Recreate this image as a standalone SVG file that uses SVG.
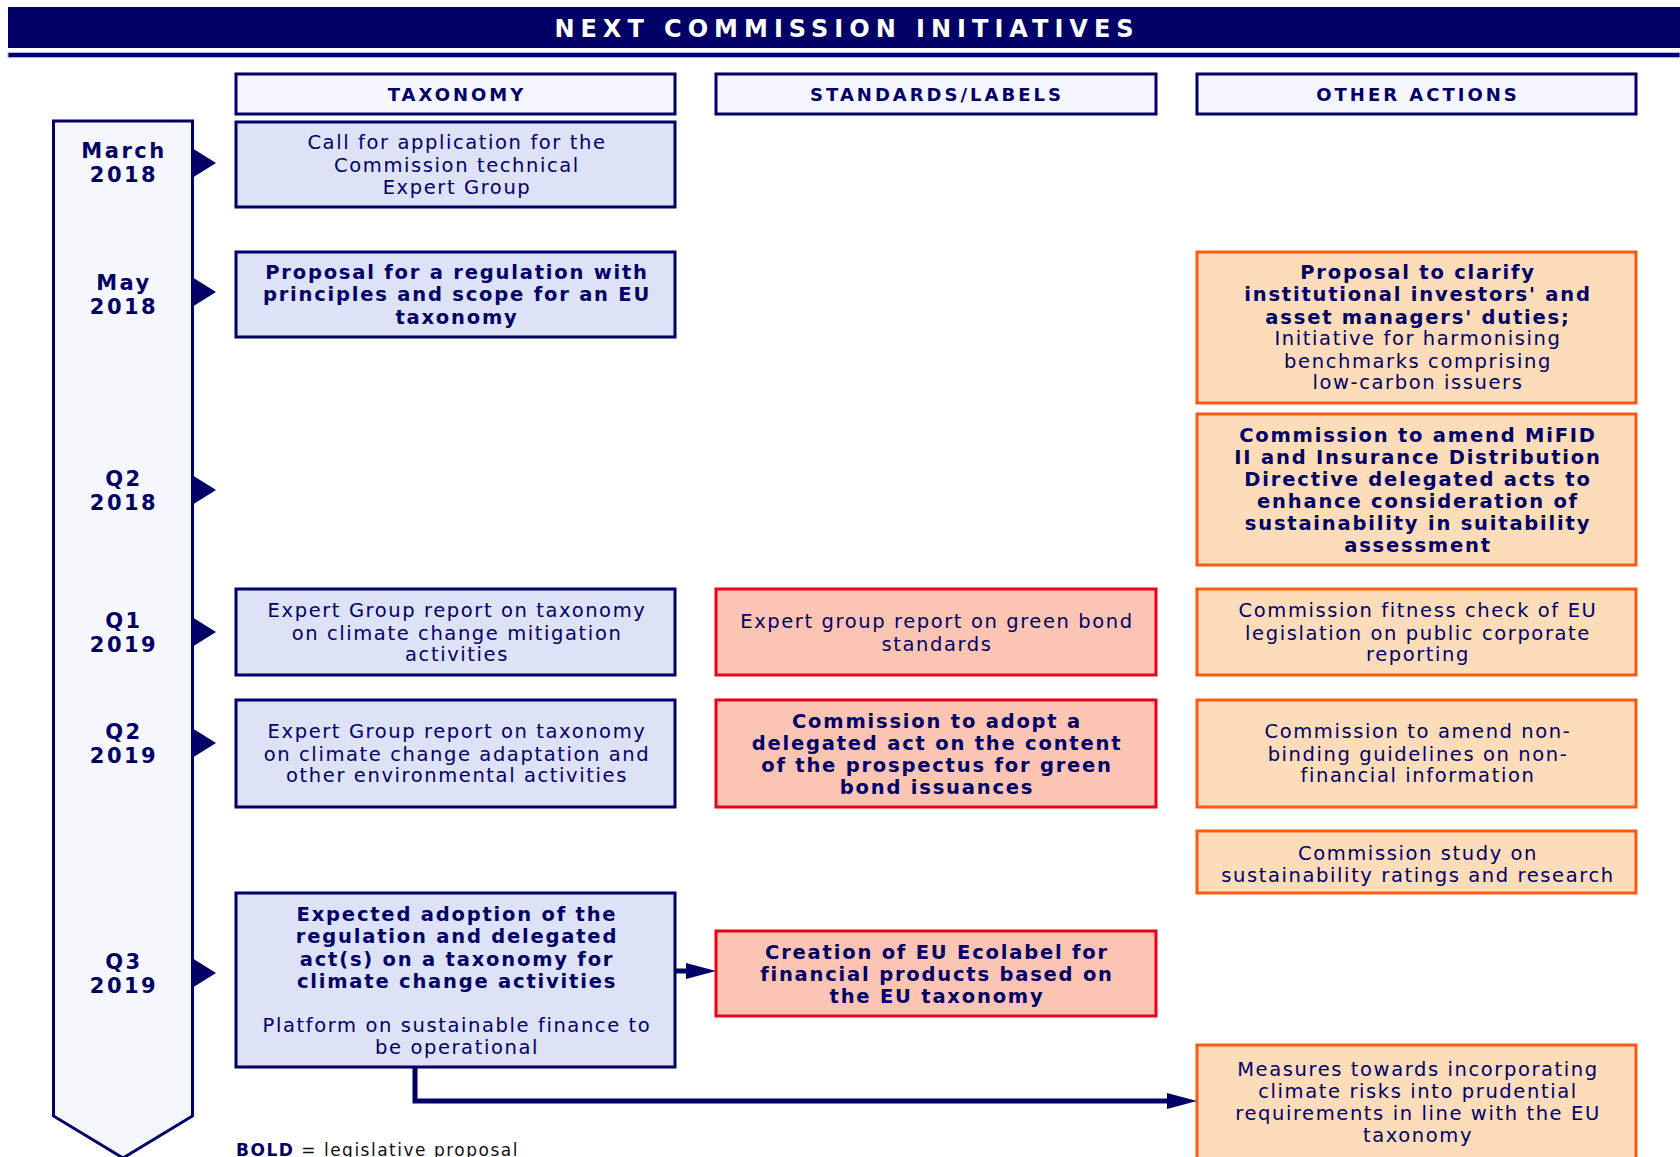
<svg xmlns="http://www.w3.org/2000/svg" width="1680" height="1157" viewBox="0 0 1680 1157">
  <defs>
    <style>
      .txt { font-family: "DejaVu Sans", "Liberation Sans", sans-serif; fill: #000066; text-anchor: middle; }
      .r { font-size: 19.5px; letter-spacing: 1.6px; }
      .b { font-size: 19.5px; font-weight: bold; letter-spacing: 1.8px; }
      .hd { font-size: 18px; font-weight: bold; letter-spacing: 3px; }
      .when { font-size: 21px; font-weight: bold; letter-spacing: 2.5px; }
      .tax { fill: #dde2f7; stroke: #000066; stroke-width: 3; }
      .std { fill: #fcc5b3; stroke: #e8001c; stroke-width: 3; }
      .oth { fill: #fddcb9; stroke: #fa5a14; stroke-width: 3; }
      .hdr { fill: #f5f6fd; stroke: #000066; stroke-width: 3; }
      .tick { fill: #000066; }
      .link { fill: none; stroke: #000066; stroke-width: 5; stroke-linejoin: miter; }
    </style>
    <marker id="arrow" viewBox="0 0 30 16" refX="10" refY="8" markerWidth="30" markerHeight="16" markerUnits="userSpaceOnUse" orient="auto">
      <path d="M0,0 L30,8 L0,16 Z" fill="#000066"/>
    </marker>
  </defs>

  <rect width="1680" height="1157" fill="#ffffff"/>

  <!-- Title banner -->
  <g id="title">
    <rect x="8" y="7" width="1672" height="41" fill="#000066"/>
    <rect x="8" y="52.5" width="1672" height="5" fill="#000066" stroke="#aab3e6" stroke-width="1"/>
    <text x="847" y="37" class="txt" style="fill:#ffffff;font-size:24px;font-weight:bold;letter-spacing:6px">NEXT COMMISSION INITIATIVES</text>
  </g>

  <!-- Column headers -->
  <g id="hdr-taxonomy">
    <rect class="hdr" x="236" y="74" width="439" height="40"/>
    <text class="txt hd" x="457" y="101">TAXONOMY</text>
  </g>
  <g id="hdr-standards">
    <rect class="hdr" x="716" y="74" width="440" height="40"/>
    <text class="txt hd" x="937" y="101">STANDARDS/LABELS</text>
  </g>
  <g id="hdr-other">
    <rect class="hdr" x="1197" y="74" width="439" height="40"/>
    <text class="txt hd" x="1418" y="101">OTHER ACTIONS</text>
  </g>

  <!-- Timeline arrow with period markers -->
  <g id="timeline">
    <path d="M53.5,121 L192.5,121 L192.5,1116 L123,1158 L53.5,1116 Z" fill="#f6f7fd" stroke="#000066" stroke-width="3"/>
    <polygon class="tick" points="192,148 216,163 192,178"/>
    <polygon class="tick" points="192,277 216,292 192,307"/>
    <polygon class="tick" points="192,475 216,490 192,505"/>
    <polygon class="tick" points="192,617 216,632 192,647"/>
    <polygon class="tick" points="192,728 216,743 192,758"/>
    <polygon class="tick" points="192,958 216,973 192,988"/>
    <text class="txt when" x="124"><tspan x="124" y="158">March</tspan><tspan x="124" y="182">2018</tspan></text>
    <text class="txt when" x="124"><tspan x="124" y="290">May</tspan><tspan x="124" y="314">2018</tspan></text>
    <text class="txt when" x="124"><tspan x="124" y="486">Q2</tspan><tspan x="124" y="510">2018</tspan></text>
    <text class="txt when" x="124"><tspan x="124" y="628">Q1</tspan><tspan x="124" y="652">2019</tspan></text>
    <text class="txt when" x="124"><tspan x="124" y="739">Q2</tspan><tspan x="124" y="763">2019</tspan></text>
    <text class="txt when" x="124"><tspan x="124" y="969">Q3</tspan><tspan x="124" y="993">2019</tspan></text>
  </g>

  <!-- Taxonomy column -->
  <g id="tax-call">
    <rect class="tax" x="236" y="122" width="439" height="85"/>
    <text class="txt r"><tspan x="457" y="149">Call for application for the</tspan><tspan x="457" y="172">Commission technical</tspan><tspan x="457" y="194">Expert Group</tspan></text>
  </g>
  <g id="tax-proposal">
    <rect class="tax" x="236" y="252" width="439" height="85"/>
    <text class="txt b"><tspan x="457" y="279">Proposal for a regulation with</tspan><tspan x="457" y="301">principles and scope for an EU</tspan><tspan x="457" y="324">taxonomy</tspan></text>
  </g>
  <g id="tax-mitigation">
    <rect class="tax" x="236" y="589" width="439" height="86"/>
    <text class="txt r"><tspan x="457" y="617">Expert Group report on taxonomy</tspan><tspan x="457" y="640">on climate change mitigation</tspan><tspan x="457" y="661">activities</tspan></text>
  </g>
  <g id="tax-adaptation">
    <rect class="tax" x="236" y="700" width="439" height="107"/>
    <text class="txt r"><tspan x="457" y="738">Expert Group report on taxonomy</tspan><tspan x="457" y="761">on climate change adaptation and</tspan><tspan x="457" y="782">other environmental activities</tspan></text>
  </g>
  <g id="tax-adoption">
    <rect class="tax" x="236" y="893" width="439" height="174"/>
    <text class="txt b"><tspan x="457" y="921">Expected adoption of the</tspan><tspan x="457" y="943">regulation and delegated</tspan><tspan x="457" y="966">act(s) on a taxonomy for</tspan><tspan x="457" y="988">climate change activities</tspan></text>
    <text class="txt r"><tspan x="457" y="1032">Platform on sustainable finance to</tspan><tspan x="457" y="1054">be operational</tspan></text>
  </g>

  <!-- Standards / labels column -->
  <g id="std-greenbond-report">
    <rect class="std" x="716" y="589" width="440" height="86"/>
    <text class="txt r"><tspan x="937" y="628">Expert group report on green bond</tspan><tspan x="937" y="651">standards</tspan></text>
  </g>
  <g id="std-prospectus">
    <rect class="std" x="716" y="700" width="440" height="107"/>
    <text class="txt b"><tspan x="937" y="728">Commission to adopt a</tspan><tspan x="937" y="750">delegated act on the content</tspan><tspan x="937" y="772">of the prospectus for green</tspan><tspan x="937" y="794">bond issuances</tspan></text>
  </g>
  <g id="std-ecolabel">
    <rect class="std" x="716" y="931" width="440" height="85"/>
    <text class="txt b"><tspan x="937" y="959">Creation of EU Ecolabel for</tspan><tspan x="937" y="981">financial products based on</tspan><tspan x="937" y="1003">the EU taxonomy</tspan></text>
  </g>

  <!-- Other actions column -->
  <g id="oth-duties">
    <rect class="oth" x="1197" y="252" width="439" height="151"/>
    <text class="txt b"><tspan x="1418" y="279">Proposal to clarify</tspan><tspan x="1418" y="301">institutional investors' and</tspan><tspan x="1418" y="324">asset managers' duties;</tspan></text>
    <text class="txt r"><tspan x="1418" y="345">Initiative for harmonising</tspan><tspan x="1418" y="368">benchmarks comprising</tspan><tspan x="1418" y="389">low-carbon issuers</tspan></text>
  </g>
  <g id="oth-mifid">
    <rect class="oth" x="1197" y="414" width="439" height="151"/>
    <text class="txt b"><tspan x="1418" y="442">Commission to amend MiFID</tspan><tspan x="1418" y="464">II and Insurance Distribution</tspan><tspan x="1418" y="486">Directive delegated acts to</tspan><tspan x="1418" y="508">enhance consideration of</tspan><tspan x="1418" y="530">sustainability in suitability</tspan><tspan x="1418" y="552">assessment</tspan></text>
  </g>
  <g id="oth-fitness">
    <rect class="oth" x="1197" y="589" width="439" height="86"/>
    <text class="txt r"><tspan x="1418" y="617">Commission fitness check of EU</tspan><tspan x="1418" y="640">legislation on public corporate</tspan><tspan x="1418" y="661">reporting</tspan></text>
  </g>
  <g id="oth-guidelines">
    <rect class="oth" x="1197" y="700" width="439" height="107"/>
    <text class="txt r"><tspan x="1418" y="738">Commission to amend non-</tspan><tspan x="1418" y="761">binding guidelines on non-</tspan><tspan x="1418" y="782">financial information</tspan></text>
  </g>
  <g id="oth-ratings">
    <rect class="oth" x="1197" y="831" width="439" height="62"/>
    <text class="txt r"><tspan x="1418" y="860">Commission study on</tspan><tspan x="1418" y="882">sustainability ratings and research</tspan></text>
  </g>
  <g id="oth-prudential">
    <rect class="oth" x="1197" y="1045" width="439" height="130"/>
    <text class="txt r"><tspan x="1418" y="1076">Measures towards incorporating</tspan><tspan x="1418" y="1098">climate risks into prudential</tspan><tspan x="1418" y="1120">requirements in line with the EU</tspan><tspan x="1418" y="1142">taxonomy</tspan></text>
  </g>

  <!-- Connectors -->
  <g id="connectors">
    <path class="link" d="M675,971 H696" marker-end="url(#arrow)"/>
    <path class="link" d="M415,1067 V1101 H1177" marker-end="url(#arrow)"/>
  </g>

  <!-- Legend -->
  <g id="legend">
    <text x="236" y="1156" style="font-family:'DejaVu Sans','Liberation Sans',sans-serif;font-size:17px;letter-spacing:1.5px"><tspan style="font-weight:bold;fill:#000066">BOLD</tspan><tspan fill="#111111"> = legislative proposal</tspan></text>
  </g>
</svg>
